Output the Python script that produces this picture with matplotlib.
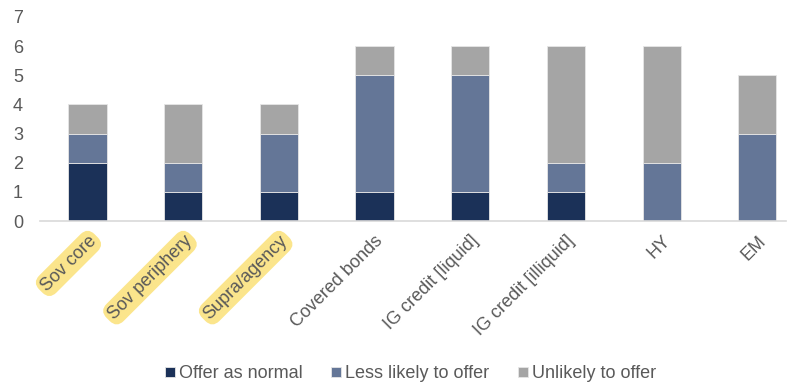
import matplotlib
matplotlib.use("Agg")
import matplotlib.pyplot as plt
import numpy as np

categories = ["Sov core", "Sov periphery", "Supra/agency", "Covered bonds",
              "IG credit [liquid]", "IG credit [illiquid]", "HY", "EM"]
offer_normal = [2, 1, 1, 1, 1, 1, 0, 0]
less_likely = [1, 1, 2, 4, 4, 1, 2, 3]
unlikely = [1, 2, 1, 1, 1, 4, 4, 2]
series_names = ["Offer as normal", "Less likely to offer", "Unlikely to offer"]
highlighted = ["Sov core", "Sov periphery", "Supra/agency"]

colors = ["#1b3158", "#647697", "#a5a5a5"]
text_color = "#595959"

plt.rcParams["font.family"] = ["Liberation Sans", "DejaVu Sans"]

fig = plt.figure(figsize=(7.94, 3.84), dpi=100)
ax = fig.add_axes([0.05, 0.424, 0.94, 0.532])

x = np.arange(len(categories))
bottom = np.zeros(len(categories))
for vals, name, c in zip([offer_normal, less_likely, unlikely], series_names, colors):
    ax.bar(x, vals, width=0.4, bottom=bottom, color=c, edgecolor="#e6e6e6",
           linewidth=0.6, label=name)
    bottom += np.array(vals)

ax.set_ylim(0, 7)
ax.set_xlim(-0.5, 7.3)
ax.set_yticks(range(0, 8))
ax.tick_params(axis="y", length=0, labelsize=13, colors=text_color, pad=12)
ax.tick_params(axis="x", length=0, pad=8)
for s in ["top", "right", "left"]:
    ax.spines[s].set_visible(False)
ax.spines["bottom"].set_color("#d9d9d9")
ax.spines["bottom"].set_linewidth(1.2)

ax.set_xticks(x)
ax.set_xticklabels(categories, rotation=45, ha="right", rotation_mode="anchor",
                   fontsize=13, color=text_color)
for lbl in ax.get_xticklabels():
    if lbl.get_text() in highlighted:
        lbl.set_bbox(dict(boxstyle="round,pad=0.2,rounding_size=0.55",
                          facecolor="#fbe58c", edgecolor="none"))

leg = fig.legend(loc="lower center", bbox_to_anchor=(0.517, -0.038), ncol=3,
                 frameon=False, fontsize=13, handlelength=0.55, handleheight=0.55,
                 handletextpad=0.2, columnspacing=1.6, labelcolor=text_color)

fig.savefig("out.png", dpi=100)
